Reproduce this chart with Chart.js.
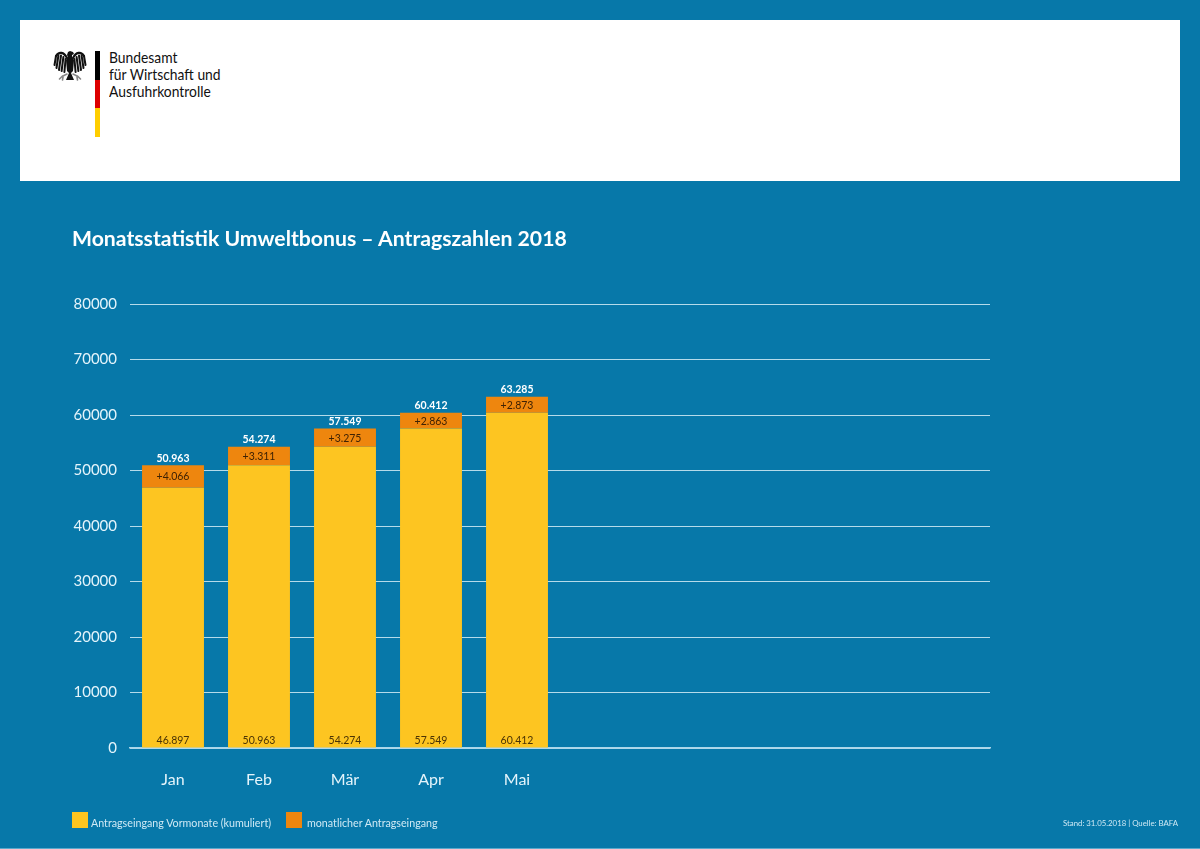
<!DOCTYPE html>
<html>
<head>
  <title>Monatsstatistik Umweltbonus</title>
  <style>
    html, body { margin: 0; padding: 0; }
    body { width: 1200px; height: 849px; position: relative; overflow: hidden; background: #0778a9; font-family: "Lato", sans-serif; }
    #stage { position: absolute; left: 0; top: 0; }
    #head { position: absolute; left: 20px; top: 20px; width: 1160px; height: 161px; background: #fff; }
    #flag { position: absolute; left: 95px; top: 51px; width: 5px; height: 86px; background: linear-gradient(#000 0 33.3%, #dd0000 33.3% 66.6%, #ffce00 66.6%); }
    #org { position: absolute; left: 109px; top: 48px; font: 16px/17.2px "Lato", sans-serif; color: #111; transform: scaleX(.865); transform-origin: left top; white-space: nowrap; }
    #eagle { position: absolute; left: 53px; top: 49px; }
    #title { position: absolute; left: 72px; top: 225px; font: bold 21.2px "Lato", sans-serif; color: #fff; white-space: nowrap; }
    #legend { position: absolute; left: 72px; top: 812px; color: #cfe9f5; font-size: 10.7px; }
    #legend span { position: absolute; top: 1px; white-space: nowrap; line-height: 20px; }
    #legend i { position: absolute; top: 0; width: 16px; height: 16px; }
    #source { position: absolute; right: 22px; top: 818px; font-size: 7.8px; color: #cfe9f5; white-space: nowrap; }
    #edge { position: absolute; left: 0; top: 848px; width: 1200px; height: 1px; background: #5aa9cc; }
  </style>
  <script src="https://cdn.jsdelivr.net/npm/chart.js"></script>
</head>
<body>
  <canvas id="stage" width="1200" height="849"></canvas>
  <div id="head"></div>
  <svg id="eagle" width="34" height="34" viewBox="0 0 34 34">
    <!-- federal eagle, simplified: one wing and leg, mirrored -->
    <defs>
      <g id="wing" fill="none" stroke-linecap="round">
        <path stroke="#111" stroke-width="2.2" d="M14 9C11 3 6 2 3 7"/>
        <path stroke="#111" stroke-width="2" d="M3 7L1.5 16M5.4 6.5L3.5 19M8 6.5L6 21M10.4 8L8.6 22M12.6 10L11.4 23"/>
        <path stroke="#888" stroke-width="1.6" d="M14 25L10 27M9.5 27L6.5 30M10 28L9.5 31"/>
      </g>
    </defs>
    <use href="#wing"/>
    <use href="#wing" transform="translate(34 0) scale(-1 1)"/>
    <path fill="#111" d="M15 8l-1-2 1-3 2-1 3 1 1 2-2 1v2l2 3-1 11-2 2 3 7h-8l3-7-2-2-1-11z"/>
  </svg>
  <div id="flag"></div>
  <div id="org">Bundesamt<br>für Wirtschaft und<br>Ausfuhrkontrolle</div>
  <div id="title">Monatsstatistik Umweltbonus – Antragszahlen 2018</div>
  <div id="legend"></div>
  <div id="source">Stand: 31.05.2018 | Quelle: BAFA</div>
  <div id="edge"></div>
  <script>
    const months = ['Jan', 'Feb', 'Mär', 'Apr', 'Mai', '', '', '', '', ''];
    const previousMonths = [46897, 50963, 54274, 57549, 60412];
    const monthlyIntake = [4066, 3311, 3275, 2863, 2873];
    const totals = [50963, 54274, 57549, 60412, 63285];
    const seriesNames = ['Antragseingang Vormonate (kumuliert)', 'monatlicher Antragseingang'];
    const seriesColors = ['#fdc521', '#ee860e'];
    const legendOffsets = [0, 214];

    // 50963 -> 50.963
    function fmt(n) {
      return String(n).replace(/\B(?=(\d{3})+$)/g, '.');
    }

    // value captions on top of and inside the bars
    const barLabels = {
      id: 'barLabels',
      afterDatasetsDraw(chart) {
        const ctx = chart.ctx;
        const base = chart.getDatasetMeta(0).data;
        const top = chart.getDatasetMeta(1).data;
        ctx.save();
        ctx.textAlign = 'center';
        ctx.textBaseline = 'middle';
        base.forEach((bar, i) => {
          ctx.font = '10.5px "Lato", sans-serif';
          ctx.fillStyle = '#4a3305';
          ctx.fillText(fmt(previousMonths[i]), bar.x, chart.scales.y.bottom - 7);
          ctx.fillStyle = '#3f2204';
          ctx.fillText('+' + fmt(monthlyIntake[i]), bar.x, (top[i].y + top[i].base) / 2 + 0.5);
          ctx.font = 'bold 10.5px "Lato", sans-serif';
          ctx.fillStyle = '#fff';
          ctx.fillText(fmt(totals[i]), bar.x, top[i].y - 7);
        });
        ctx.restore();
      }
    };

    new Chart(document.getElementById('stage').getContext('2d'), {
      type: 'bar',
      data: {
        labels: months,
        datasets: [
          { label: seriesNames[0], data: previousMonths, backgroundColor: seriesColors[0] },
          { label: seriesNames[1], data: monthlyIntake, backgroundColor: seriesColors[1] }
        ]
      },
      options: {
        responsive: false,
        animation: false,
        categoryPercentage: 1,
        barPercentage: 0.72,
        layout: { padding: { top: 304, right: 210 } },
        plugins: { legend: { display: false }, tooltip: { enabled: false } },
        scales: {
          x: {
            stacked: true,
            afterFit: s => { s.height = 101; },
            grid: { display: false },
            border: { color: '#a9d6ea', width: 1.5 },
            ticks: { color: '#e4f4fb', font: { family: 'Lato', size: 16 }, padding: 14, maxRotation: 0 }
          },
          y: {
            stacked: true,
            min: 0,
            max: 80000,
            afterFit: s => { s.width = 130; },
            border: { display: false },
            grid: { color: '#b5dbea', lineWidth: 1, tickLength: 0 },
            ticks: { stepSize: 10000, color: '#e4f4fb', font: { family: 'Lato', size: 15 }, padding: 13, callback: v => String(v) }
          }
        }
      },
      plugins: [barLabels]
    });

    const legend = document.getElementById('legend');
    seriesNames.forEach((name, i) => {
      const swatch = document.createElement('i');
      swatch.style.left = legendOffsets[i] + 'px';
      swatch.style.background = seriesColors[i];
      const text = document.createElement('span');
      text.style.left = (legendOffsets[i] + (i ? 21 : 19)) + 'px';
      text.textContent = name;
      legend.append(swatch, text);
    });
  </script>
</body>
</html>
